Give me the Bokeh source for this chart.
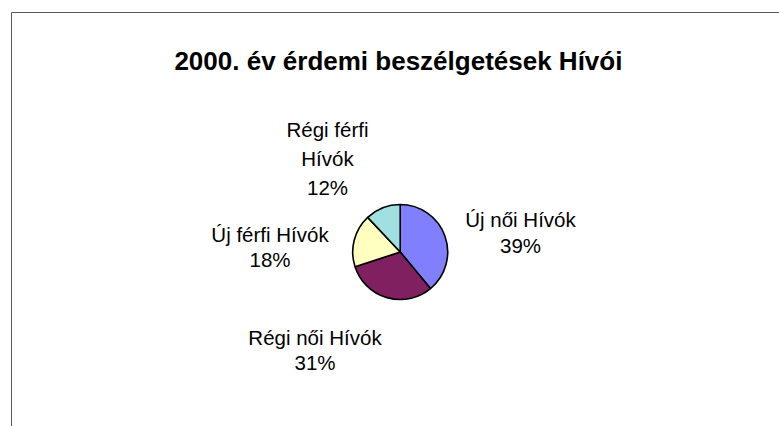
import math
from bokeh.plotting import figure
from bokeh.models import Range1d, ColumnDataSource
from bokeh.core.properties import value
from bokeh.embed import file_html
from bokeh.resources import INLINE

# ---- data ----
categories = ["Új női Hívók", "Régi női Hívók", "Új férfi Hívók", "Régi férfi Hívók"]
shares = [39, 31, 18, 12]
title_text = "2000. év érdemi beszélgetések Hívói"

# ---- style / layout ----
colors = ["#8080FF", "#802060", "#FFFFC0", "#A0E0E0"]
label_lines = [["Új női Hívók"], ["Régi női Hívók"], ["Új férfi Hívók"], ["Régi férfi", "Hívók"]]
W, H = 779, 426
OFFSET = 0  # page offset of the figure (bokeh template sets body margin 0)
FONT = "Liberation Sans"

def fx(px):
    return px - OFFSET

def fy(py):
    return H - (py - OFFSET)

pie_cx, pie_cy, pie_r = fx(399.7), fy(251.5), 47.5
# label anchor (centre x, first baseline, line gap) in page pixels
label_layout = [(520, 219.3, 25.7), (314.5, 336.7, 25.0), (269.5, 234.3, 25.0), (327, 129.3, 29.0)]

p = figure(width=W, height=H, output_backend="svg", toolbar_location=None,
           x_axis_type=None, y_axis_type=None, min_border=0,
           x_range=Range1d(0, W), y_range=Range1d(0, H))
p.outline_line_color = None
p.grid.visible = False
p.background_fill_color = "white"
p.border_fill_color = "white"

# chart-area border (top and left edges visible)
p.segment(x0=[fx(11), fx(11)], y0=[fy(12), fy(12)], x1=[fx(11), W], y1=[0, fy(12)],
          line_color="#5a5a5a", line_width=1)

# pie
total = float(sum(shares))
starts, ends = [], []
cum = 0.0
for v in shares:
    starts.append(math.pi / 2 - 2 * math.pi * cum / total)
    cum += v
    ends.append(math.pi / 2 - 2 * math.pi * cum / total)
src = ColumnDataSource(dict(start=starts, end=ends, color=colors))
p.wedge(x=pie_cx, y=pie_cy, radius=pie_r, start_angle="start", end_angle="end",
        direction="clock", fill_color="color", line_color="black", line_width=1.6, source=src)

# labels
tx, ty, tt = [], [], []
for i, name in enumerate(categories):
    pct = round(shares[i] / total * 100)
    lines = label_lines[i] + [f"{pct}%"]
    cx, b1, gap = label_layout[i]
    for j, ln in enumerate(lines):
        tx.append(fx(cx))
        ty.append(fy(b1 + j * gap))
        tt.append(ln)
p.text(x=tx, y=ty, text=tt, text_align="center", text_baseline="alphabetic",
       text_font=value(FONT), text_font_size="20.5px", text_color="black")

# title
p.text(x=[fx(397.9)], y=[fy(60)], text=[title_text], text_align="center",
       text_baseline="alphabetic", text_font=value(FONT), text_font_size="26px",
       text_font_style="bold", text_color="black")

open("out.html", "w").write(file_html(p, INLINE))
